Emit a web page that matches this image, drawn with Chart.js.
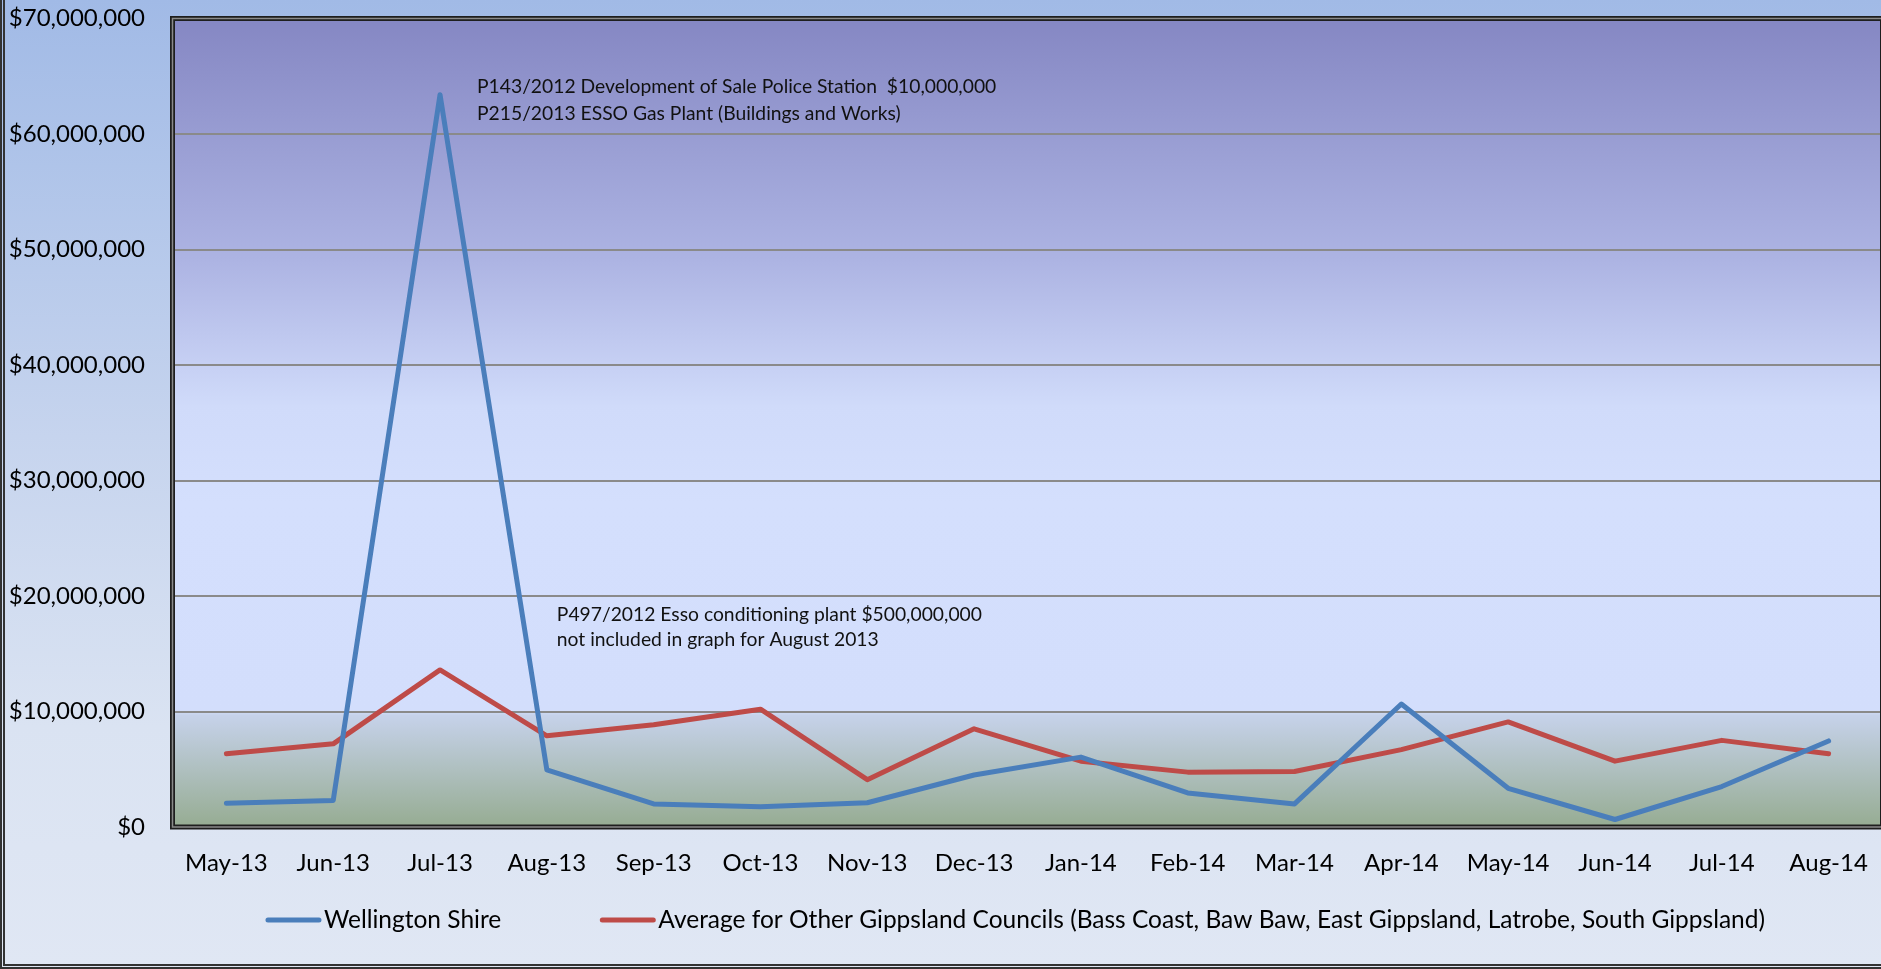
<!DOCTYPE html>
<html>
<head>
<meta charset="utf-8">
<title>Wellington Shire building permits</title>
<script src="https://cdn.jsdelivr.net/npm/chart.js@4.4.0/dist/chart.umd.min.js"></script>
<style>
  html, body { margin: 0; padding: 0; }
  body {
    width: 1881px;
    height: 969px;
    overflow: hidden;
    background: linear-gradient(to bottom, #a1bae6 0%, #c6d4ee 45%, #dae3f2 75%, #e0e7f4 100%);
  }
  #wrap {
    position: relative;
    width: 1881px;
    height: 969px;
    box-sizing: border-box;
    border-left: 5px double #333;
    border-bottom: 5px double #333;
  }
  #chart { position: absolute; left: 0; top: 0; }
</style>
</head>
<body>
<div id="wrap"><canvas id="chart" width="1881" height="969"></canvas></div>
<script>
// Data
const months = ["May-13", "Jun-13", "Jul-13", "Aug-13", "Sep-13", "Oct-13", "Nov-13", "Dec-13",
  "Jan-14", "Feb-14", "Mar-14", "Apr-14", "May-14", "Jun-14", "Jul-14", "Aug-14"];
const wellington = [2050000, 2300000, 63400000, 4950000, 2000000, 1750000, 2100000, 4500000,
  6050000, 2950000, 2000000, 10650000, 3350000, 650000, 3500000, 7450000];
const otherAverage = [6350000, 7200000, 13600000, 7900000, 8850000, 10200000, 4100000, 8500000,
  5700000, 4750000, 4800000, 6700000, 9100000, 5700000, 7500000, 6350000];
const yTicks = [0, 10000000, 20000000, 30000000, 40000000, 50000000, 60000000, 70000000];

const wellingtonLabel = "Wellington Shire";
const otherLabel = "Average for Other Gippsland Councils (Bass Coast, Baw Baw, East Gippsland, Latrobe, South Gippsland)";

// Text notes, anchored to a month and a value
const noteTop = ["P143/2012 Development of Sale Police Station  $10,000,000",
  "P215/2013 ESSO Gas Plant (Buildings and Works)"];
const noteBottom = ["P497/2012 Esso conditioning plant $500,000,000",
  "not included in graph for August 2013"];

const FONT = "Lato";
Chart.defaults.font.family = FONT;
Chart.defaults.color = "#000";

function money(v) {
  return "$" + Number(v).toLocaleString("en-US");
}

// Plot area background gradient
const plotBackground = {
  id: "plotBackground",
  beforeDraw(chart) {
    const { ctx, chartArea: a } = chart;
    const g = ctx.createLinearGradient(0, a.top, 0, a.bottom);
    g.addColorStop(0, "#8587c3");
    g.addColorStop(0.3, "#adb4e3");
    g.addColorStop(0.48, "#d0dbfa");
    g.addColorStop(0.6, "#d4dffd");
    g.addColorStop(0.856, "#d3defc");
    g.addColorStop(0.862, "#c6d2ea");
    g.addColorStop(1, "#96ac92");
    ctx.save();
    ctx.fillStyle = g;
    ctx.fillRect(a.left, a.top, a.right - a.left, a.bottom - a.top);
    ctx.restore();
  },
};

// Frame, notes and legend
const extras = {
  id: "extras",
  afterDraw(chart) {
    const { ctx, chartArea: a, scales } = chart;
    ctx.save();

    // frame round the plot
    ctx.lineWidth = 5;
    ctx.strokeStyle = "#1e1e1e";
    ctx.strokeRect(a.left - 0.5, a.top, a.right - a.left + 1, a.bottom - a.top);
    ctx.lineWidth = 1.5;
    ctx.strokeStyle = "#8a8a8a";
    ctx.strokeRect(a.left - 0.5, a.top, a.right - a.left + 1, a.bottom - a.top);

    // notes
    ctx.font = "19.3px " + FONT;
    ctx.fillStyle = "#111";
    ctx.textAlign = "left";
    ctx.textBaseline = "middle";
    let x = scales.x.getPixelForValue(2) + 37;
    let y = scales.y.getPixelForValue(64100000);
    noteTop.forEach((line, i) => ctx.fillText(line, x, y + i * 27));
    x = scales.x.getPixelForValue(3) + 10;
    y = scales.y.getPixelForValue(18350000);
    noteBottom.forEach((line, i) => ctx.fillText(line, x, y + i * 25));

    // legend
    ctx.font = "24.5px " + FONT;
    const items = chart.data.datasets.map((d) => ({
      label: d.label,
      color: d.borderColor,
      w: ctx.measureText(d.label).width,
    }));
    const lineLen = 55, textGap = 3, itemGap = 99;
    let total = 0;
    items.forEach((it, i) => {
      total += lineLen + textGap + it.w + (i < items.length - 1 ? itemGap : 0);
    });
    let lx = (a.left + a.right) / 2 - 12 - total / 2;
    const ly = 920;
    items.forEach((it) => {
      ctx.beginPath();
      ctx.lineCap = "round";
      ctx.lineWidth = 5;
      ctx.strokeStyle = it.color;
      ctx.moveTo(lx + 2, ly);
      ctx.lineTo(lx + lineLen - 2, ly);
      ctx.stroke();
      ctx.fillStyle = "#000";
      ctx.fillText(it.label, lx + lineLen + textGap, ly);
      lx += lineLen + textGap + it.w + itemGap;
    });

    ctx.restore();
  },
};

new Chart(document.getElementById("chart"), {
  type: "line",
  data: {
    labels: months,
    datasets: [
      {
        label: wellingtonLabel,
        data: wellington,
        borderColor: "#4a7ebb",
        borderWidth: 5,
        pointRadius: 0,
        borderJoinStyle: "round",
        borderCapStyle: "round",
        tension: 0,
      },
      {
        label: otherLabel,
        data: otherAverage,
        borderColor: "#be4b48",
        borderWidth: 5,
        pointRadius: 0,
        borderJoinStyle: "round",
        borderCapStyle: "round",
        tension: 0,
      },
    ],
  },
  options: {
    responsive: false,
    animation: false,
    events: [],
    layout: { padding: { left: 0, right: 4, top: 18.5, bottom: 0 } },
    plugins: {
      legend: { display: false },
      tooltip: { enabled: false },
    },
    scales: {
      x: {
        offset: true,
        grid: { display: false, drawTicks: false },
        border: { display: false },
        ticks: {
          autoSkip: false,
          maxRotation: 0,
          padding: 22,
          font: { size: 24 },
          color: "#000",
        },
        afterFit(scale) {
          scale.height = 142;
          scale.paddingLeft = 0;
          scale.paddingRight = 0;
        },
      },
      y: {
        min: 0,
        max: 70000000,
        afterBuildTicks(scale) {
          scale.ticks = yTicks.map((v) => ({ value: v }));
        },
        grid: { color: "#8a8a8a", lineWidth: 2, drawTicks: false },
        border: { display: false },
        ticks: {
          padding: 28,
          font: { size: 24 },
          color: "#000",
          callback: (v) => money(v),
        },
        afterFit(scale) {
          scale.width = 168;
          scale.paddingTop = 0;
          scale.paddingBottom = 0;
        },
      },
    },
  },
  plugins: [plotBackground, extras],
});
</script>
</body>
</html>
